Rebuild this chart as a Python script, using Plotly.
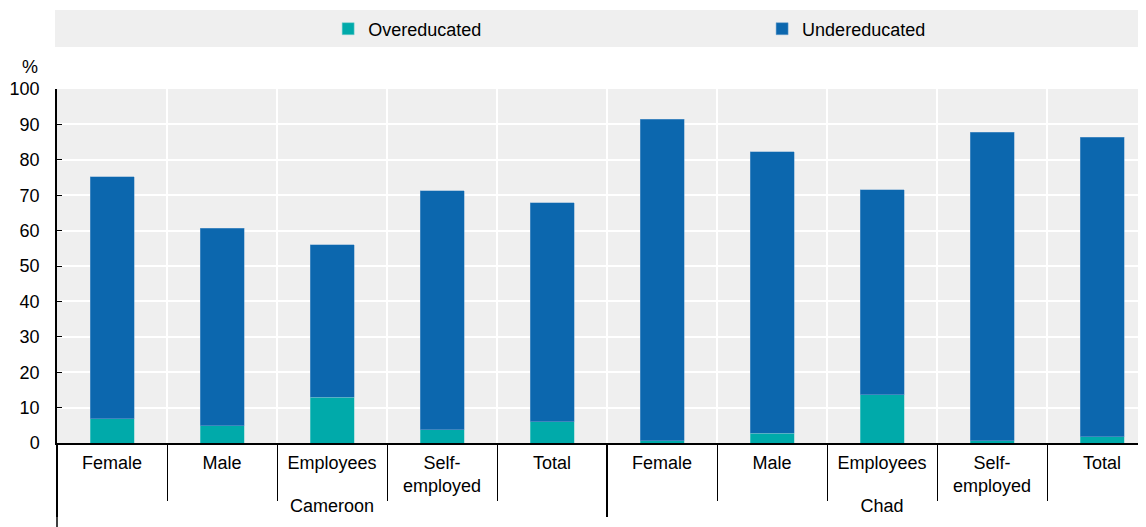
import plotly.graph_objects as go

countries = ["Cameroon"] * 5 + ["Chad"] * 5
groups = ["Female", "Male", "Employees", "Self-<br>employed", "Total"] * 2
overeducated = [6.9, 4.9, 12.9, 3.7, 6.0, 0.6, 2.7, 13.7, 0.6, 1.7]
undereducated = [68.3, 55.8, 43.1, 67.5, 61.8, 90.9, 79.6, 57.8, 87.2, 84.7]

font_family = "Liberation Sans, Arial"

fig = go.Figure()
fig.add_trace(go.Bar(
    x=[countries, groups], y=overeducated, name="Overeducated", legend="legend2",
    marker=dict(color="#00AAAA", line=dict(color="#7FD0D0", width=0.5)),
))
fig.add_trace(go.Bar(
    x=[countries, groups], y=undereducated, name="Undereducated", legend="legend3",
    marker=dict(color="#0C67AE", line=dict(color="#6FA3CF", width=0.5)),
))

# page body has an 8px margin; the plot area runs a little past the right edge of the window
legend_style = dict(orientation="h", yanchor="middle", y=1.1695, xanchor="left",
                    bgcolor="rgba(0,0,0,0)", font=dict(size=18), visible=True)

fig.update_layout(
    barmode="stack",
    bargap=0.6,
    width=1149, height=527,
    margin=dict(l=49, r=0, t=81, b=92, autoexpand=False),
    plot_bgcolor="#EFEFEF",
    paper_bgcolor="white",
    font=dict(family=font_family, size=18, color="black"),
    showlegend=True,
    legend2=dict(legend_style, x=0.2465),
    legend3=dict(legend_style, x=0.641),
    shapes=[
        dict(type="rect", xref="paper", yref="paper", x0=-0.0018, x1=1.01,
             y0=1.1186, y1=1.2232, fillcolor="#EFEFEF", line=dict(width=0), layer="below"),
        dict(type="line", xref="paper", yref="paper", x0=0, x1=0,
             y0=0, y1=-0.3, line=dict(color="black", width=1.5)),
    ],
    annotations=[
        dict(text="%", xref="paper", yref="paper", x=-0.0245, y=1.062,
             showarrow=False, xanchor="center", yanchor="middle", font=dict(size=18)),
    ],
)

fig.update_yaxes(
    range=[0, 100], dtick=10, showgrid=True, gridcolor="white", gridwidth=2,
    showline=True, linecolor="black", linewidth=1.5,
    ticks="inside", ticklen=5, tickcolor="black", zeroline=False,
    ticklabelstandoff=12,
)
fig.update_xaxes(
    showgrid=True, gridcolor="white", gridwidth=2,
    showline=True, linecolor="black", linewidth=2,
    ticks="outside", ticklen=56, tickcolor="black", tickson="boundaries",
    showdividers=True, dividercolor="black", dividerwidth=1.5,
    ticklabelstandoff=2,
)

fig.write_html("out.html")
